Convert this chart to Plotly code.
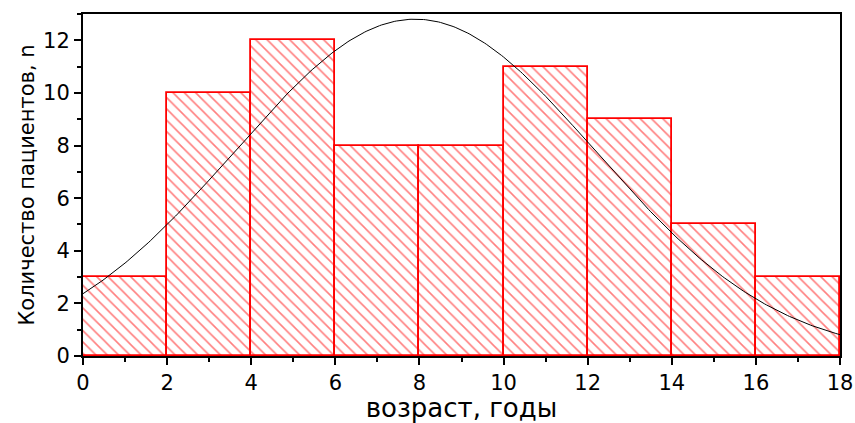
import numpy as np
import plotly.graph_objects as go

# Age bins (years) and patient counts per bin
bin_left = [0, 2, 4, 6, 8, 10, 12, 14, 16]
bin_width = 2
counts = [3, 10, 12, 8, 8, 11, 9, 5, 3]

# Normal-distribution fit over the histogram
fit_mean = 7.9
fit_sigma = 4.3
fit_area = sum(counts) * bin_width

x_ticks = [0, 2, 4, 6, 8, 10, 12, 14, 16, 18]
y_ticks = [0, 2, 4, 6, 8, 10, 12]

centers = [b + bin_width / 2 for b in bin_left]
xs = np.linspace(0, 18, 361)
ys = fit_area / (fit_sigma * np.sqrt(2 * np.pi)) * np.exp(-((xs - fit_mean) ** 2) / (2 * fit_sigma ** 2))

fig = go.Figure()
fig.add_trace(go.Bar(
    x=centers, y=counts, width=[bin_width] * len(counts),
    marker=dict(
        color="white",
        line=dict(color="#ff0000", width=1.8),
        pattern=dict(shape="\\", fgcolor="#ff0000", bgcolor="white", size=8, solidity=0.2),
    ),
    showlegend=False,
))
fig.add_trace(go.Scatter(
    x=xs, y=ys, mode="lines", line=dict(color="black", width=1), showlegend=False,
))

axis_common = dict(
    showline=True, linecolor="black", linewidth=2, mirror=True,
    ticks="outside", ticklen=7, tickwidth=1.5, tickcolor="black",
    showgrid=False, zeroline=False, automargin=False,
    tickfont=dict(family="DejaVu Sans", size=21, color="black"),
    minor=dict(ticks="outside", ticklen=4, tickwidth=1.5, tickcolor="black", dtick=1),
)

fig.update_xaxes(
    range=[0, 18], tickvals=x_ticks, **axis_common,
    title=dict(text="возраст, годы", font=dict(family="DejaVu Sans", size=26, color="black"), standoff=20),
)
fig.update_yaxes(
    range=[0, 13], tickvals=y_ticks, **axis_common,
    title=dict(text="Количество пациентов, n", font=dict(family="DejaVu Sans", size=21, color="black"), standoff=3),
)

fig.update_layout(
    width=855, height=423,
    margin=dict(l=83, r=15, t=14, b=67),
    paper_bgcolor="white", plot_bgcolor="white",
    bargap=0,
)

fig.write_html("out.html")
